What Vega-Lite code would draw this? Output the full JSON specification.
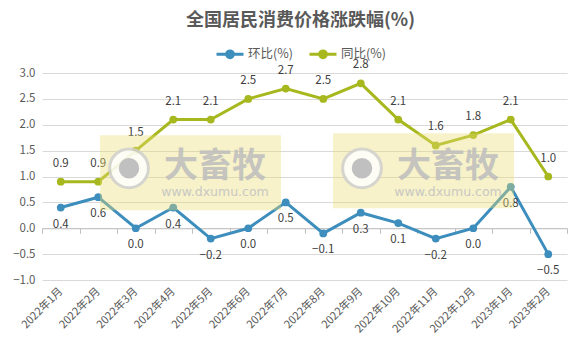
{
  "$schema": "https://vega.github.io/schema/vega-lite/v6.json",
  "width": 525,
  "height": 207,
  "autosize": {"type": "none"},
  "padding": {"left": 42, "top": 73, "right": 11, "bottom": 80},
  "background": "white",
  "config": {
    "font": "Noto Sans CJK SC",
    "view": {"stroke": null},
    "axisY": {
      "title": null, "values": [-1, -0.5, 0, 0.5, 1, 1.5, 2, 2.5, 3], "format": ".1f",
      "domain": false, "ticks": false, "labelPadding": 7, "labelFontSize": 11.5, "labelColor": "#595959",
      "gridColor": "#d9d9d9", "gridWidth": 1, "labelOverlap": false
    }
  },
  "title": {"text": "全国居民消费价格涨跌幅(%)", "fontSize": 18, "fontWeight": "bold", "color": "#595959", "anchor": "middle", "dx": -4, "offset": 9, "font": "Noto Sans CJK SC"},
  "datasets": {
    "cpi": [
      {"m": "2022年1月", "s": "环比(%)", "v": 0.4}, {"m": "2022年2月", "s": "环比(%)", "v": 0.6},
      {"m": "2022年3月", "s": "环比(%)", "v": 0.0}, {"m": "2022年4月", "s": "环比(%)", "v": 0.4},
      {"m": "2022年5月", "s": "环比(%)", "v": -0.2}, {"m": "2022年6月", "s": "环比(%)", "v": 0.0},
      {"m": "2022年7月", "s": "环比(%)", "v": 0.5}, {"m": "2022年8月", "s": "环比(%)", "v": -0.1},
      {"m": "2022年9月", "s": "环比(%)", "v": 0.3}, {"m": "2022年10月", "s": "环比(%)", "v": 0.1},
      {"m": "2022年11月", "s": "环比(%)", "v": -0.2}, {"m": "2022年12月", "s": "环比(%)", "v": 0.0},
      {"m": "2023年1月", "s": "环比(%)", "v": 0.8}, {"m": "2023年2月", "s": "环比(%)", "v": -0.5},
      {"m": "2022年1月", "s": "同比(%)", "v": 0.9}, {"m": "2022年2月", "s": "同比(%)", "v": 0.9},
      {"m": "2022年3月", "s": "同比(%)", "v": 1.5}, {"m": "2022年4月", "s": "同比(%)", "v": 2.1},
      {"m": "2022年5月", "s": "同比(%)", "v": 2.1}, {"m": "2022年6月", "s": "同比(%)", "v": 2.5},
      {"m": "2022年7月", "s": "同比(%)", "v": 2.7}, {"m": "2022年8月", "s": "同比(%)", "v": 2.5},
      {"m": "2022年9月", "s": "同比(%)", "v": 2.8}, {"m": "2022年10月", "s": "同比(%)", "v": 2.1},
      {"m": "2022年11月", "s": "同比(%)", "v": 1.6}, {"m": "2022年12月", "s": "同比(%)", "v": 1.8},
      {"m": "2023年1月", "s": "同比(%)", "v": 2.1}, {"m": "2023年2月", "s": "同比(%)", "v": 1.0}
    ],
    "wmrect": [
      {"x": 1.547, "x2": 6.373, "v": 1.797, "v2": 0.348},
      {"x": 7.76, "x2": 12.587, "v": 1.836, "v2": 0.386}
    ],
    "wmlogo": [
      {"x": 2.32, "v": 1.159},
      {"x": 8.533, "v": 1.159}
    ],
    "wmtext": [
      {"x": 4.613, "v": 1.18, "t": "大畜牧", "k": "big"},
      {"x": 10.827, "v": 1.18, "t": "大畜牧", "k": "big"},
      {"x": 4.613, "v": 0.70, "t": "www.dxumu.com", "k": "url"},
      {"x": 10.827, "v": 0.70, "t": "www.dxumu.com", "k": "url"}
    ]
  },
  "resolve": {"scale": {"x": "independent"}},
  "layer": [
    {
      "data": {"name": "cpi"},
      "mark": {"type": "line", "opacity": 0},
      "encoding": {
        "x": {
          "field": "m", "type": "nominal", "sort": null,
          "scale": {"type": "band", "paddingInner": 0, "paddingOuter": 0},
          "axis": {
            "title": null, "offset": -51.75, "labelAngle": -45, "labelAlign": "right", "labelBaseline": "middle",
            "labelPadding": 56, "labelFontSize": 11, "labelColor": "#595959", "tickBand": "extent",
            "domainColor": "#bfbfbf", "tickColor": "#bfbfbf", "tickSize": 5, "grid": false, "labelOverlap": false
          }
        },
        "y": {
          "field": "v", "type": "quantitative",
          "scale": {"domain": [-1, 3], "nice": false}
        }
      }
    },
    {
      "data": {"name": "cpi"},
      "encoding": {
        "x": {
          "field": "m", "type": "nominal", "sort": null,
          "scale": {"type": "band", "paddingInner": 0, "paddingOuter": 0},
          "axis": null
        },
        "y": {
          "field": "v", "type": "quantitative",
          "scale": {"domain": [-1, 3], "nice": false}
        },
        "color": {
          "field": "s", "type": "nominal",
          "scale": {"domain": ["环比(%)", "同比(%)"], "range": ["#3d8ebd", "#a6b81e"]},
          "legend": {
            "title": null, "orient": "none", "legendX": 173, "legendY": -34, "direction": "horizontal",
            "symbolType": "M-1,0H1M0.25,0A0.25,0.25,0,1,1,-0.25,0A0.25,0.25,0,1,1,0.25,0",
            "symbolSize": 729, "symbolStrokeWidth": 3, "labelFontSize": 12.5, "labelColor": "#595959",
            "columnPadding": 10, "labelOffset": 3
          }
        }
      },
      "layer": [
        {"mark": {"type": "line", "strokeWidth": 3}},
        {"mark": {"type": "point", "filled": true, "size": 60, "opacity": 1}},
        {
          "transform": [{"filter": "datum.s == '同比(%)'"}],
          "mark": {"type": "text", "dy": -18, "fontSize": 11.5, "color": "#404040"},
          "encoding": {"text": {"field": "v", "type": "quantitative", "format": ".1f"}, "color": {"value": "#404040"}}
        },
        {
          "transform": [{"filter": "datum.s == '环比(%)'"}],
          "mark": {"type": "text", "dy": 17, "fontSize": 11.5, "color": "#404040"},
          "encoding": {"text": {"field": "v", "type": "quantitative", "format": ".1f"}, "color": {"value": "#404040"}}
        }
      ]
    },
    {
      "layer": [
        {
          "data": {"name": "wmrect"},
          "mark": {"type": "rect", "color": "#eadc72", "opacity": 0.38},
          "encoding": {
            "x": {"field": "x", "type": "quantitative", "scale": {"domain": [0, 14], "nice": false, "zero": false}, "axis": null},
            "x2": {"field": "x2"},
            "y": {"field": "v", "type": "quantitative", "scale": {"domain": [-1, 3], "nice": false}},
            "y2": {"field": "v2"}
          }
        },
        {
          "data": {"name": "wmlogo"},
          "mark": {"type": "point", "shape": "circle", "filled": true, "color": "#ffffff", "stroke": "#d0d0d0", "strokeWidth": 3, "size": 1500, "opacity": 0.85},
          "encoding": {
            "x": {"field": "x", "type": "quantitative", "scale": {"domain": [0, 14], "nice": false, "zero": false}, "axis": null},
            "y": {"field": "v", "type": "quantitative", "scale": {"domain": [-1, 3], "nice": false}}
          }
        },
        {
          "data": {"name": "wmlogo"},
          "mark": {"type": "point", "shape": "circle", "filled": true, "color": "#bdbdbd", "size": 420, "opacity": 0.95},
          "encoding": {
            "x": {"field": "x", "type": "quantitative", "scale": {"domain": [0, 14], "nice": false, "zero": false}, "axis": null},
            "y": {"field": "v", "type": "quantitative", "scale": {"domain": [-1, 3], "nice": false}}
          }
        },
        {
          "data": {"name": "wmtext"},
          "transform": [{"filter": "datum.k == 'big'"}],
          "mark": {"type": "text", "fontSize": 34, "fontWeight": "bold", "color": "#bdbdbd", "opacity": 0.85, "baseline": "middle", "align": "center"},
          "encoding": {
            "x": {"field": "x", "type": "quantitative", "scale": {"domain": [0, 14], "nice": false, "zero": false}, "axis": null},
            "y": {"field": "v", "type": "quantitative", "scale": {"domain": [-1, 3], "nice": false}},
            "text": {"field": "t"}
          }
        },
        {
          "data": {"name": "wmtext"},
          "transform": [{"filter": "datum.k == 'url'"}],
          "mark": {"type": "text", "fontSize": 12.5, "font": "DejaVu Sans", "color": "#c4c4c4", "opacity": 0.9, "baseline": "middle", "align": "center"},
          "encoding": {
            "x": {"field": "x", "type": "quantitative", "scale": {"domain": [0, 14], "nice": false, "zero": false}, "axis": null},
            "y": {"field": "v", "type": "quantitative", "scale": {"domain": [-1, 3], "nice": false}},
            "text": {"field": "t"}
          }
        }
      ]
    }
  ]
}
